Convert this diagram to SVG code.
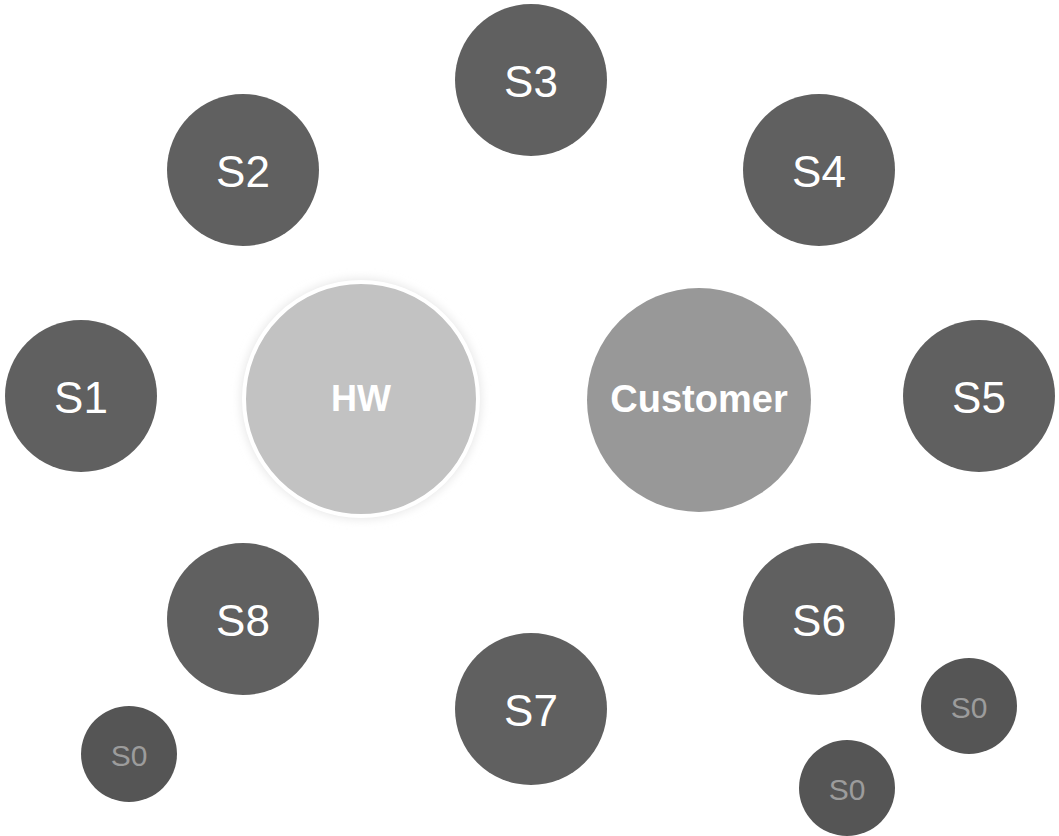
<svg xmlns="http://www.w3.org/2000/svg" width="1059" height="836" viewBox="0 0 1059 836">
<defs>
<style>
.s{fill:#606060}
.s0{fill:#555555}
.t{font-family:"Liberation Sans",Arial,sans-serif;fill:#ffffff;text-anchor:middle;dominant-baseline:central}
.st{font-size:44px}
.s0t{font-size:30px;fill:#9c9c9c}
.bt{font-weight:bold}
</style>
<filter id="glow" x="-20%" y="-20%" width="140%" height="140%">
<feGaussianBlur stdDeviation="5"/>
</filter>
</defs>
<rect width="1059" height="836" fill="#ffffff"/>
<g id="connectors"></g>
<g id="hw">
<circle cx="361" cy="399" r="120" fill="#e6e6e6" filter="url(#glow)"/>
<circle cx="361" cy="399" r="117" fill="#c2c2c2" stroke="#ffffff" stroke-width="4"/>
<text class="t bt" x="361" y="398" font-size="36">HW</text>
</g>
<g id="customer">
<circle cx="699" cy="400" r="112" fill="#989898"/>
<text class="t bt" x="699" y="399" font-size="38">Customer</text>
</g>
<g id="s1"><circle class="s" cx="81" cy="396" r="76"/><text class="t st" x="81" y="397">S1</text></g>
<g id="s2"><circle class="s" cx="243" cy="170" r="76"/><text class="t st" x="243" y="171">S2</text></g>
<g id="s3"><circle class="s" cx="531" cy="80" r="76"/><text class="t st" x="531" y="81">S3</text></g>
<g id="s4"><circle class="s" cx="819" cy="170" r="76"/><text class="t st" x="819" y="171">S4</text></g>
<g id="s5"><circle class="s" cx="979" cy="396" r="76"/><text class="t st" x="979" y="397">S5</text></g>
<g id="s6"><circle class="s" cx="819" cy="619" r="76"/><text class="t st" x="819" y="620">S6</text></g>
<g id="s7"><circle class="s" cx="531" cy="709" r="76"/><text class="t st" x="531" y="710">S7</text></g>
<g id="s8"><circle class="s" cx="243" cy="619" r="76"/><text class="t st" x="243" y="620">S8</text></g>
<g id="s0a"><circle class="s0" cx="129" cy="754" r="48"/><text class="t s0t" x="129" y="755">S0</text></g>
<g id="s0b"><circle class="s0" cx="969" cy="706" r="48"/><text class="t s0t" x="969" y="707">S0</text></g>
<g id="s0c"><circle class="s0" cx="847" cy="788" r="48"/><text class="t s0t" x="847" y="789">S0</text></g>
</svg>
